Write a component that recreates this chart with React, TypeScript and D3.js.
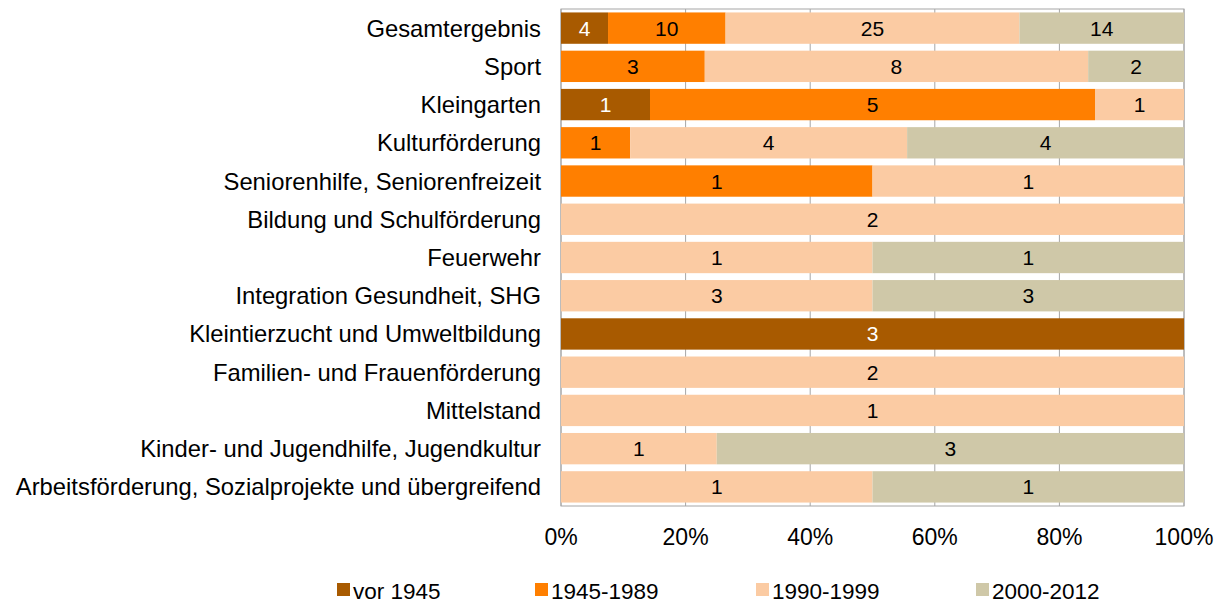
import React from 'react';
import * as d3 from 'd3';

const categories = [
  'Gesamtergebnis',
  'Sport',
  'Kleingarten',
  'Kulturförderung',
  'Seniorenhilfe, Seniorenfreizeit',
  'Bildung und Schulförderung',
  'Feuerwehr',
  'Integration Gesundheit, SHG',
  'Kleintierzucht und Umweltbildung',
  'Familien- und Frauenförderung',
  'Mittelstand',
  'Kinder- und Jugendhilfe, Jugendkultur',
  'Arbeitsförderung, Sozialprojekte und übergreifend',
];
const seriesNames = ['vor 1945', '1945-1989', '1990-1999', '2000-2012'];
const vor1945 = [4, 0, 1, 0, 0, 0, 0, 0, 3, 0, 0, 0, 0];
const from1945 = [10, 3, 5, 1, 1, 0, 0, 0, 0, 0, 0, 0, 0];
const from1990 = [25, 8, 1, 4, 1, 2, 1, 3, 0, 2, 1, 1, 1];
const from2000 = [14, 2, 0, 4, 0, 0, 1, 3, 0, 0, 0, 3, 1];
const ticks = [0, 0.2, 0.4, 0.6, 0.8, 1];

const colors = ['#A85A00', '#FF7F00', '#FBCBA3', '#CFC8A8'];
const font = 'Liberation Sans, Arial, sans-serif';
const width = 1231;
const height = 604;
const left = 561;
const right = 1184;
const top = 9;
const bottom = 506;

const rows = categories.map((c, i) => ({
  cat: c,
  [seriesNames[0]]: vor1945[i],
  [seriesNames[1]]: from1945[i],
  [seriesNames[2]]: from1990[i],
  [seriesNames[3]]: from2000[i],
}));

const stack = d3
  .stack<any>()
  .keys(seriesNames)
  .offset(d3.stackOffsetExpand);

const x = d3.scaleLinear().domain([0, 1]).range([left, right]);
const y = d3
  .scaleBand()
  .domain(categories)
  .range([top, bottom])
  .paddingInner(0.18)
  .paddingOuter(0.09);

const legendX = [337, 535, 756, 976];

const App = () => {
  const series = stack(rows);
  return (
    <svg width={width} height={height} style={{ display: 'block', position: 'absolute', left: 0, top: 0 }}>
      <rect width={width} height={height} fill="#fff" />
      {ticks.map(t => (
        <line key={t} x1={x(t)} x2={x(t)} y1={top} y2={bottom} stroke="#A6A6A6" strokeWidth={1} />
      ))}
      <rect x={left} y={top} width={right - left} height={bottom - top} fill="none" stroke="#A6A6A6" strokeWidth={1} />
      {series.map((s, si) => (
        <g key={s.key} fill={colors[si]}>
          {s.map((d, i) =>
            d[1] - d[0] > 0 ? (
              <rect
                key={i}
                x={x(d[0])}
                width={x(d[1]) - x(d[0])}
                y={y(d.data.cat)}
                height={y.bandwidth()}
              />
            ) : null
          )}
        </g>
      ))}
      {series.map((s, si) => (
        <g key={'l' + s.key}>
          {s.map((d, i) => {
            const v = (d.data as any)[s.key];
            if (!v) return null;
            return (
              <text
                key={i}
                x={(x(d[0]) + x(d[1])) / 2}
                y={(y(d.data.cat) as number) + y.bandwidth() / 2 + 7.5}
                textAnchor="middle"
                fontFamily={font}
                fontSize={21}
                fill={si === 0 ? '#fff' : '#000'}
              >
                {v}
              </text>
            );
          })}
        </g>
      ))}
      {categories.map(c => (
        <text
          key={c}
          x={541}
          y={(y(c) as number) + y.bandwidth() / 2 + 8.5}
          textAnchor="end"
          fontFamily={font}
          fontSize={23.8}
          fill="#000"
        >
          {c}
        </text>
      ))}
      {ticks.map(t => (
        <text key={t} x={x(t)} y={545} textAnchor="middle" fontFamily={font} fontSize={23} fill="#000">
          {d3.format('.0%')(t)}
        </text>
      ))}
      {seriesNames.map((n, i) => (
        <g key={n}>
          <rect x={legendX[i]} y={583} width={13} height={13} fill={colors[i]} />
          <text x={legendX[i] + 16} y={599} fontFamily={font} fontSize={22.5} fill="#000">
            {n}
          </text>
        </g>
      ))}
    </svg>
  );
};

export default App;
